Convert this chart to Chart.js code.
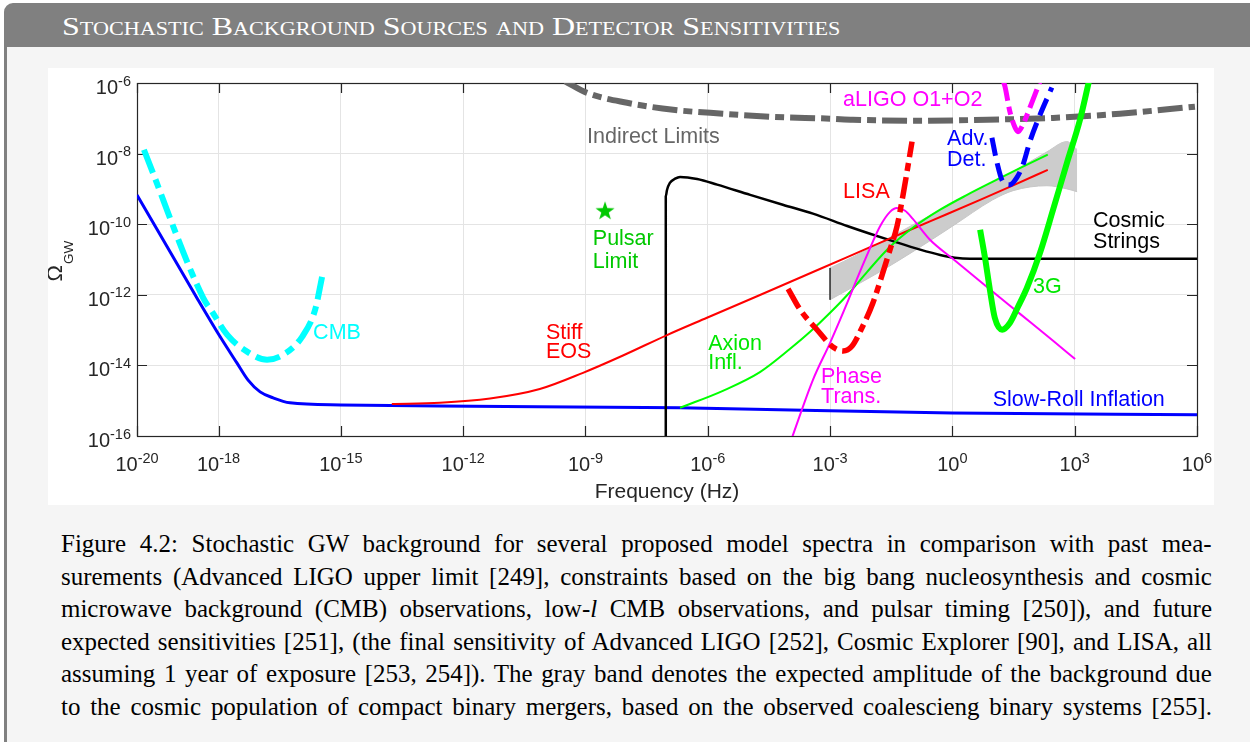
<!DOCTYPE html>
<html>
<head>
<meta charset="utf-8">
<script src="https://cdn.jsdelivr.net/npm/chart.js@4.4.1/dist/chart.umd.min.js"></script>
<style>
  html, body { margin: 0; padding: 0; width: 1250px; height: 742px; overflow: hidden; background: #fff; position: relative; }
  .frame { position: absolute; left: 4px; top: 3px; width: 1300px; height: 800px; box-sizing: border-box;
           background: #f5f5f5; border: 3px solid #808080; border-radius: 9px 9px 0 0; }
  .head { position: absolute; left: 0; top: 0; right: 0; height: 41px; background: #808080; }
  .title { position: absolute; left: 62px; top: 6px; height: 41px; line-height: 41px; color: #fff; white-space: nowrap;
           font-family: "Liberation Serif", "Times New Roman", serif; font-variant: small-caps; font-size: 26px;
           transform-origin: left center; }
  .plot { position: absolute; left: 48px; top: 68px; width: 1166px; height: 437px; background: #fff; }
  .caption { position: absolute; left: 61px; top: 528px; color: #000; transform-origin: left top;
             font-family: "Liberation Serif", "Times New Roman", serif; font-size: 26px; line-height: 32.6px; }
  .caption div { white-space: nowrap; }
</style>
</head>
<body>
<div class="frame"><div class="head"></div></div>
<div class="title" id="title">Stochastic Background Sources and Detector Sensitivities</div>
<div class="plot"><canvas id="chart" width="1166" height="437"></canvas></div>
<div class="caption" id="caption">
  <div><span>Figure 4.2: Stochastic GW background for several proposed model spectra in comparison with past mea-</span></div>
  <div><span>surements (Advanced LIGO upper limit [249], constraints based on the big bang nucleosynthesis and cosmic</span></div>
  <div><span>microwave background (CMB) observations, low-<i>l</i> CMB observations, and pulsar timing [250]), and future</span></div>
  <div><span>expected sensitivities [251], (the final sensitivity of Advanced LIGO [252], Cosmic Explorer [90], and LISA, all</span></div>
  <div><span>assuming 1 year of exposure [253, 254]). The gray band denotes the expected amplitude of the background due</span></div>
  <div><span>to the cosmic population of compact binary mergers, based on the observed coalescieng binary systems [255].</span></div>
</div>
<script>
// all values are log10(frequency / Hz) and log10(Omega_GW)
const xTickExps = [-20, -18, -15, -12, -9, -6, -3, 0, 3, 6];
const yTickExps = [-16, -14, -12, -10, -8, -6];

const slowRollLogF = [-20, -18.53, -17.96, -17.55, -17.28, -16.98, -16.66, -16.25, -15.0, -12.57, -6.68, 0.0, 6.0];
const slowRollLogOmega = [-9.17, -12.09, -13.19, -13.93, -14.41, -14.75, -14.92, -15.06, -15.12, -15.15, -15.20, -15.35, -15.40];

const cmbLogF = [-19.83, -18.38, -18.14, -17.79, -17.30, -16.81, -16.42, -15.95, -15.63, -15.46];
const cmbLogOmega = [-7.89, -12.08, -12.51, -13.13, -13.61, -13.84, -13.70, -13.19, -12.42, -11.49];

const indirectLogF = [-9.5, -8.96, -7.98, -6.85, -5.63, -4.40, -3.0, -2.44, -0.8, 0.85, 2.47, 4.11, 5.95];
const indirectLogOmega = [-5.95, -6.28, -6.56, -6.76, -6.87, -6.96, -7.01, -7.04, -7.07, -7.04, -6.99, -6.87, -6.67];

const pulsarLogF = [-8.52];
const pulsarLogOmega = [-9.62];

const stringsLogF = [-7.03, -7.03, -7.00, -6.93, -6.80, -6.68, -6.26, -5.77, -4.96, -4.16, -3.42, -2.58, -2.02, -1.46, -0.79, -0.30, 0.06, 0.43, 6.0];
const stringsLogOmega = [-16.2, -9.21, -9.03, -8.83, -8.71, -8.66, -8.72, -8.88, -9.17, -9.45, -9.70, -10.05, -10.27, -10.48, -10.72, -10.87, -10.95, -10.98, -10.98];

const stiffLogF = [-13.75, -12.57, -11.34, -10.12, -9.06, -8.08, -7.00, -6.02, -4.79, -3.25, -1.78, -0.55, 0.68, 1.49, 2.34];
const stiffLogOmega = [-15.09, -15.06, -14.94, -14.67, -14.21, -13.72, -13.14, -12.65, -12.04, -11.27, -10.53, -9.92, -9.31, -8.90, -8.46];

const axionLogF = [-6.68, -5.63, -4.72, -3.98, -3.49, -3.00, -2.51, -2.09, -1.53, -0.97, -0.30, 0.36, 1.09, 1.73, 2.34];
const axionLogOmega = [-15.20, -14.72, -14.19, -13.53, -13.05, -12.51, -11.92, -11.35, -10.64, -10.10, -9.59, -9.17, -8.74, -8.37, -8.03];

const phaseLogF = [-3.95, -3.42, -3.00, -2.58, -2.32, -2.07, -1.78, -1.53, -1.36, -1.16, -0.97, -0.55, 0.01, 0.85, 1.66, 2.47, 3.01];
const phaseLogOmega = [-16.1, -14.41, -13.36, -12.23, -11.49, -10.81, -10.07, -9.65, -9.54, -9.62, -9.85, -10.44, -10.98, -11.78, -12.54, -13.30, -13.82];

const lisaLogF = [-4.03, -3.73, -3.32, -2.93, -2.68, -2.46, -2.22, -1.95, -1.70, -1.53, -1.36, -1.21, -0.99];
const lisaLogOmega = [-11.83, -12.43, -12.99, -13.48, -13.59, -13.45, -12.94, -12.23, -11.35, -10.72, -10.07, -9.17, -7.66];

const aligoLogF = [1.25, 1.29, 1.41, 1.54, 1.61, 1.73, 1.90, 2.15];
const aligoLogOmega = [-5.95, -6.10, -6.81, -7.27, -7.38, -7.18, -6.70, -5.95];

const advDetLogF = [0.97, 1.09, 1.24, 1.41, 1.58, 1.73, 1.90, 2.15, 2.44];
const advDetLogOmega = [-7.55, -8.23, -8.80, -8.88, -8.68, -8.32, -7.66, -6.90, -6.13];

const g3LogF = [0.68, 0.80, 0.92, 1.04, 1.22, 1.41, 1.61, 1.83, 2.15, 2.47, 2.81, 3.13, 3.36];
const g3LogOmega = [-10.16, -10.95, -11.86, -12.65, -12.99, -12.80, -12.34, -11.80, -10.81, -9.59, -8.26, -7.04, -5.90];

const bandUpperLogF = [-3.0, -2.34, -0.97, 0.26, 1.49, 2.32, 2.81, 3.06];
const bandUpperLogOmega = [-11.24, -10.87, -10.02, -9.25, -8.51, -7.95, -7.66, -7.89];
const bandLowerLogF = [-3.0, -1.78, -0.97, 0.01, 0.99, 1.49, 2.32, 2.81, 3.06];
const bandLowerLogOmega = [-12.14, -11.35, -10.78, -10.05, -9.31, -9.05, -8.91, -9.00, -9.08];

// text labels placed in the same data coordinates (left edge, baseline)
const notes = [
  { text: "CMB", f: -15.68, o: -13.25, color: "#00ffff" },
  { text: "Indirect Limits", f: -8.96, o: -7.69, color: "#666666" },
  { text: "Pulsar", f: -8.82, o: -10.58, color: "#00c800" },
  { text: "Limit", f: -8.82, o: -11.24, color: "#00c800" },
  { text: "Stiff", f: -9.97, o: -13.25, color: "#ff0000" },
  { text: "EOS", f: -9.97, o: -13.79, color: "#ff0000" },
  { text: "Axion", f: -5.99, o: -13.56, color: "#00e600" },
  { text: "Infl.", f: -5.99, o: -14.10, color: "#00e600" },
  { text: "Phase", f: -3.22, o: -14.50, color: "#ff00ff" },
  { text: "Trans.", f: -3.22, o: -15.06, color: "#ff00ff" },
  { text: "LISA", f: -2.68, o: -9.25, color: "#ff0000" },
  { text: "aLIGO O1+O2", f: -2.68, o: -6.64, color: "#ff00ff" },
  { text: "Adv.", f: -0.13, o: -7.75, color: "#0000ff" },
  { text: "Det.", f: -0.13, o: -8.34, color: "#0000ff" },
  { text: "Cosmic", f: 3.45, o: -10.07, color: "#000000" },
  { text: "Strings", f: 3.45, o: -10.67, color: "#000000" },
  { text: "3G", f: 1.98, o: -11.95, color: "#00e600" },
  { text: "Slow-Roll Inflation", f: 0.99, o: -15.15, color: "#0000ff" }
];

// header and caption: squeeze/justify to the widths in the figure
(function () {
  const title = document.getElementById("title");
  title.style.transform = "scaleX(" + (778 / title.offsetWidth) + ")";
  const cap = document.getElementById("caption");
  const squeeze = 0.96, target = 1151 / squeeze;
  cap.style.width = target + "px";
  cap.style.transform = "scaleX(" + squeeze + ")";
  cap.querySelectorAll("span").forEach(s => {
    const gaps = s.textContent.trim().split(/\s+/).length - 1;
    s.parentNode.style.wordSpacing = ((target - s.offsetWidth) / gaps) + "px";
  });
})();

function pts(logF, logO) {
  return logF.map((f, i) => ({ x: Math.pow(10, f), y: Math.pow(10, logO[i]) }));
}

function curve(logF, logO, color, width, dash, extra) {
  return Object.assign({
    data: pts(logF, logO),
    showLine: true,
    pointRadius: 0,
    borderColor: color,
    backgroundColor: color,
    borderWidth: width,
    borderDash: dash || [],
    borderCapStyle: "butt",
    borderJoinStyle: "round",
    cubicInterpolationMode: "monotone",
    fill: false,
    clip: 0
  }, extra || {});
}

// filled pentagram for the pulsar limit
const star = document.createElement("canvas");
star.width = 24;
star.height = 24;
(function () {
  const c = star.getContext("2d");
  c.fillStyle = "#00c800";
  c.beginPath();
  for (let k = 0; k < 10; k++) {
    const r = k % 2 === 0 ? 10 : 3.9;
    const a = -Math.PI / 2 + k * Math.PI / 5;
    const px = 12 + r * Math.cos(a), py = 12.5 + r * Math.sin(a);
    if (k === 0) c.moveTo(px, py); else c.lineTo(px, py);
  }
  c.closePath();
  c.fill();
})();

const FONT = "'Liberation Sans', Arial, Helvetica, sans-serif";
const AXIS = "#262626";

function drawPow(ctx, exp, x, y, align) {
  ctx.font = "20px " + FONT;
  const w1 = ctx.measureText("10").width;
  ctx.font = "14.5px " + FONT;
  const w2 = ctx.measureText(String(exp)).width;
  const left = align === "center" ? x - (w1 + w2) / 2 : x - (w1 + w2);
  ctx.textAlign = "left";
  ctx.textBaseline = "alphabetic";
  ctx.font = "20px " + FONT;
  ctx.fillText("10", left, y);
  ctx.font = "14.5px " + FONT;
  ctx.fillText(String(exp), left + w1, y - 8.5);
}

const axisDecor = {
  id: "axisDecor",
  beforeDatasetsDraw(chart) {
    const { ctx, chartArea: a, scales: { x, y } } = chart;
    ctx.save();
    ctx.strokeStyle = AXIS;
    ctx.lineWidth = 1.2;
    ctx.beginPath();
    xTickExps.forEach(e => {
      const px = Math.round(x.getPixelForValue(Math.pow(10, e))) + 0.5;
      ctx.moveTo(px, a.bottom); ctx.lineTo(px, a.bottom - 10);
      ctx.moveTo(px, a.top); ctx.lineTo(px, a.top + 10);
    });
    yTickExps.forEach(e => {
      const py = Math.round(y.getPixelForValue(Math.pow(10, e))) + 0.5;
      ctx.moveTo(a.left, py); ctx.lineTo(a.left + 10, py);
      ctx.moveTo(a.right, py); ctx.lineTo(a.right - 10, py);
    });
    ctx.stroke();
    ctx.strokeRect(a.left + 0.5, a.top + 0.5, a.right - a.left, a.bottom - a.top);
    ctx.restore();
  },
  afterDraw(chart) {
    const { ctx, chartArea: a, scales: { x, y } } = chart;
    ctx.save();
    ctx.fillStyle = AXIS;
    xTickExps.forEach(e => drawPow(ctx, e, x.getPixelForValue(Math.pow(10, e)), a.bottom + 35, "center"));
    yTickExps.forEach(e => drawPow(ctx, e, a.left - 6, y.getPixelForValue(Math.pow(10, e)) + 11, "right"));
    ctx.font = "21px " + FONT;
    ctx.textAlign = "center";
    ctx.fillText("Frequency (Hz)", (a.left + a.right) / 2, a.bottom + 62);
    // rotated y title: Omega with subscript GW
    ctx.translate(14, (a.top + a.bottom) / 2 + 22);
    ctx.rotate(-Math.PI / 2);
    ctx.textAlign = "left";
    ctx.font = "22px " + FONT;
    ctx.fillText("\u03A9", 0, 0);
    const w = ctx.measureText("\u03A9").width;
    ctx.font = "13.5px " + FONT;
    ctx.fillText("GW", w + 1, 11);
    ctx.restore();
  }
};

const notesPlugin = {
  id: "notes",
  afterDatasetsDraw(chart) {
    const { ctx, scales: { x, y } } = chart;
    ctx.save();
    ctx.font = "21.5px " + FONT;
    ctx.textAlign = "left";
    ctx.textBaseline = "alphabetic";
    notes.forEach(n => {
      ctx.fillStyle = n.color;
      ctx.fillText(n.text, x.getPixelForValue(Math.pow(10, n.f)), y.getPixelForValue(Math.pow(10, n.o)));
    });
    ctx.restore();
  }
};

const datasets = [
  curve(bandUpperLogF, bandUpperLogOmega, "#c6c6c6", 1, null, { order: 30 }),
  curve(bandLowerLogF, bandLowerLogOmega, "#c6c6c6", 1, null, { order: 29, fill: "-1", backgroundColor: "#cccccc" }),
  curve([-3.0, -3.0], [-11.24, -12.14], "#404040", 1, null, { order: 28, cubicInterpolationMode: "default", tension: 0 }),
  curve(slowRollLogF, slowRollLogOmega, "#0000ff", 3, null, { order: 20 }),
  curve(cmbLogF, cmbLogOmega, "#00ffff", 6, [25, 7, 9, 7], { order: 19 }),
  curve(indirectLogF, indirectLogOmega, "#666666", 6, [25, 6, 9, 6], { order: 18 }),
  curve(stringsLogF, stringsLogOmega, "#000000", 2.5, null, { order: 17 }),
  curve(stiffLogF, stiffLogOmega, "#ff0000", 2, null, { order: 16 }),
  curve(axionLogF, axionLogOmega, "#00ff00", 2, null, { order: 15 }),
  curve(phaseLogF, phaseLogOmega, "#ff00ff", 2, null, { order: 14 }),
  curve(lisaLogF, lisaLogOmega, "#ff0000", 5.5, [22, 6, 8, 6], { order: 13 }),
  curve(aligoLogF, aligoLogOmega, "#ff00ff", 5, [20, 6, 8, 6], { order: 12 }),
  curve(advDetLogF, advDetLogOmega, "#0000ff", 5, [18, 8], { order: 11 }),
  curve(g3LogF, g3LogOmega, "#00ff00", 6, null, { order: 10 }),
  {
    data: pts(pulsarLogF, pulsarLogOmega),
    showLine: false,
    pointStyle: star,
    pointRadius: 10,
    order: 5,
    clip: 0
  }
];

new Chart(document.getElementById("chart"), {
  type: "scatter",
  data: { datasets },
  options: {
    responsive: false,
    animation: false,
    events: [],
    layout: { padding: { left: 89, right: 17, top: 15, bottom: 69 } },
    plugins: { legend: { display: false }, tooltip: { enabled: false } },
    scales: {
      x: {
        type: "logarithmic",
        min: 1e-20,
        max: 1e6,
        afterBuildTicks: s => { s.ticks = xTickExps.map(e => ({ value: Math.pow(10, e) })); },
        afterFit: s => { s.height = 0; },
        ticks: { display: false },
        grid: { color: "#e4e4e4", lineWidth: 1, drawTicks: false },
        border: { display: false }
      },
      y: {
        type: "logarithmic",
        min: 1e-16,
        max: 1e-6,
        afterBuildTicks: s => { s.ticks = yTickExps.map(e => ({ value: Math.pow(10, e) })); },
        afterFit: s => { s.width = 0; },
        ticks: { display: false },
        grid: { color: "#e4e4e4", lineWidth: 1, drawTicks: false },
        border: { display: false }
      }
    }
  },
  plugins: [axisDecor, notesPlugin]
});
</script>
</body>
</html>
